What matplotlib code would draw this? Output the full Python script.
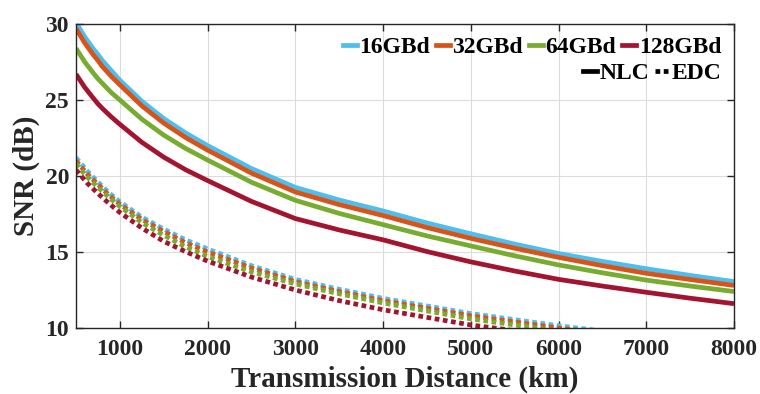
import matplotlib
matplotlib.use("Agg")
import matplotlib.pyplot as plt
from matplotlib.lines import Line2D

# ---- data ----
dist_nlc = [500, 600, 700, 750, 800, 900, 1000, 1250, 1500, 1750, 2000, 2500, 3000, 3500,
            4000, 4500, 5000, 5500, 6000, 6500, 7000, 7500, 8000]
nlc_16 = [30.1, 29.15, 28.35, 28.0, 27.6, 26.95, 26.3, 24.92, 23.78, 22.83, 22.0, 20.49, 19.25, 18.42,
          17.7, 16.91, 16.2, 15.52, 14.9, 14.38, 13.9, 13.46, 13.05]
nlc_32 = [29.7, 28.75, 27.95, 27.6, 27.2, 26.57, 26.0, 24.62, 23.48, 22.53, 21.7, 20.19, 18.95, 18.12,
          17.4, 16.61, 15.9, 15.25, 14.65, 14.1, 13.6, 13.19, 12.8]
nlc_64 = [28.4, 27.5, 26.75, 26.4, 26.1, 25.5, 25.0, 23.74, 22.69, 21.81, 21.05, 19.59, 18.4, 17.54,
          16.8, 16.06, 15.4, 14.75, 14.15, 13.63, 13.15, 12.76, 12.4]
nlc_128 = [26.7, 25.83, 25.1, 24.75, 24.45, 23.9, 23.4, 22.22, 21.24, 20.41, 19.7, 18.33, 17.2, 16.45,
           15.8, 15.03, 14.35, 13.75, 13.2, 12.76, 12.35, 11.96, 11.6]

dist_edc = [500, 625, 750, 875, 1000, 1250, 1500, 1750, 2000, 2500, 3000, 3500, 4000, 5000, 6000, 6500]
edc_16 = [21.2, 20.35, 19.6, 18.9, 18.3, 17.3, 16.5, 15.8, 15.2, 14.1, 13.2, 12.55, 11.95, 10.95, 10.15, 9.8]
edc_32 = [21.0, 20.15, 19.45, 18.75, 18.15, 17.14, 16.35, 15.61, 15.0, 13.95, 13.05, 12.4, 11.8, 10.8, 10.0, 9.65]
edc_64 = [20.8, 19.95, 19.25, 18.6, 18.0, 16.94, 16.1, 15.34, 14.7, 13.7, 12.9, 12.25, 11.65, 10.6, 9.8, 9.45]
edc_128 = [20.4, 19.55, 18.85, 18.2, 17.6, 16.58, 15.7, 15.02, 14.4, 13.35, 12.5, 11.8, 11.2, 10.2, 9.45, 9.1]

labels = ["16GBd", "32GBd", "64GBd", "128GBd"]
colors = ["#4DBEEE", "#D95319", "#77AC30", "#A2142F"]
xticks = [1000, 2000, 3000, 4000, 5000, 6000, 7000, 8000]
yticks = [10, 15, 20, 25, 30]

plt.rcParams["font.family"] = ["Liberation Serif", "DejaVu Serif"]
plt.rcParams["font.weight"] = "bold"
txt = "#262626"

fig = plt.figure(figsize=(7.6, 3.94), dpi=100)
ax = fig.add_axes([76 / 760, 1 - 328 / 394, 658 / 760, 304 / 394])

lw = 3.4
dots = (0, (1, 0.75))
for y, c in zip([nlc_16, nlc_32, nlc_64, nlc_128], colors):
    ax.plot(dist_nlc, y, color=c, lw=lw, solid_capstyle="butt", solid_joinstyle="round")
for y, c in zip([edc_16, edc_32, edc_64, edc_128], colors):
    ax.plot(dist_edc, y, color=c, lw=lw, linestyle=dots)

ax.set_xlim(500, 8000)
ax.set_ylim(10, 30)
ax.set_xticks(xticks)
ax.set_yticks(yticks)
ax.grid(True, color="#dcdcdc", lw=0.8)
ax.set_axisbelow(True)
ax.tick_params(direction="in", top=True, right=True, length=5, width=1,
               colors="#262626", labelsize=17, pad=8)
ax.tick_params(axis="y", pad=5)
for lab in ax.get_xticklabels() + ax.get_yticklabels():
    lab.set_fontweight("bold")
for s in ax.spines.values():
    s.set_color("#262626")
    s.set_linewidth(1.0)

ax.set_xlabel("Transmission Distance (km)", fontsize=21, fontweight="bold", color=txt, labelpad=4)
ax.set_ylabel("SNR (dB)", fontsize=21, fontweight="bold", color=txt, labelpad=4)

h1 = [Line2D([], [], color=c, lw=lw) for c in colors]
leg1 = ax.legend(h1, labels, loc="upper right", bbox_to_anchor=(0.995, 0.99), ncol=4,
                 frameon=False, handlelength=0.6, handletextpad=0.1, columnspacing=0.25,
                 borderaxespad=0, prop={"size": 17, "weight": "bold"})
ax.add_artist(leg1)
h2 = [Line2D([], [], color="black", lw=lw), Line2D([], [], color="black", lw=lw, linestyle=dots)]
leg2 = ax.legend(h2, ["NLC", "EDC"], loc="upper right", bbox_to_anchor=(0.995, 0.905), ncol=2,
                 frameon=False, handlelength=0.6, handletextpad=0.1, columnspacing=0.25,
                 borderaxespad=0, prop={"size": 17, "weight": "bold"})

fig.savefig("out.png", dpi=100)
